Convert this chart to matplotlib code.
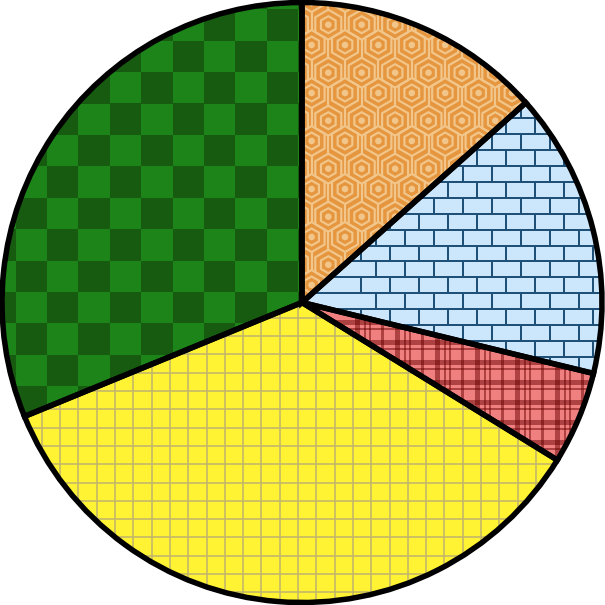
import numpy as np
import matplotlib
matplotlib.use("Agg")
import matplotlib.pyplot as plt
from matplotlib.collections import LineCollection, PolyCollection, PatchCollection
from matplotlib.patches import Circle, Rectangle

# ---- data ----
categories = ["Orange hexagons", "Blue bricks", "Red plaid", "Yellow grid", "Green checks"]
values = [13.4, 15.4, 5.0, 35.0, 31.2]
base_colors = ["#e5963e", "#cce6fb", "#f08080", "#fff333", "#1c8418"]

W = 605
R_PX = 300.0
CX, CY = 303.0, 302.5
PT = 72.0 / 100.0  # points per pixel


def P(x, y):
    return ((x - CX) / R_PX, (CY - y) / R_PX)


fig = plt.figure(figsize=(6.05, 6.05), dpi=100)
ax = fig.add_axes([0, 0, 1, 1])

wedges, _ = ax.pie(values, colors=base_colors, startangle=90, counterclock=False,
                   radius=1.0, center=(0, 0), wedgeprops=dict(linewidth=0))


def clip_add(coll, wedge):
    coll.set_zorder(2)
    ax.add_collection(coll)
    coll.set_clip_path(wedge)


# ---- orange hexagon pattern ----
def hexagon(cx, cy, r):
    angs = np.deg2rad(np.arange(6) * 60 + 90)
    return [P(cx + r * np.cos(a), cy - r * np.sin(a)) for a in angs]


hex_light = "#f2c68a"
polys, segs, dots = [], [], []
for j in range(-2, 8):
    for i in range(-2, 10):
        for (x0, y0) in [(346.0, 45.0), (329.3, 72.7)]:
            cx = x0 + 33.4 * i
            cy = y0 + 48.0 * j
            polys.append(hexagon(cx, cy, 15.0))
            polys.append(hexagon(cx, cy, 8.5))
            segs.append([P(cx, cy + 15.0), P(cx, cy + 48.0 - 15.0)])
            dots.append(Circle(P(cx, cy), 3.3 / R_PX))
w = wedges[0]
clip_add(PolyCollection(polys, facecolors="none", edgecolors=hex_light, linewidths=2.2 * PT), w)
clip_add(LineCollection(segs, colors=hex_light, linewidths=2.2 * PT), w)
clip_add(PatchCollection(dots, facecolor=hex_light, edgecolor="none"), w)

# ---- blue bricks ----
brick_col = "#1f5078"
segs = []
for k in range(-4, 22):
    yt = 118.3 + 15.9 * k
    segs.append([P(280, yt), P(620, yt)])
    for i in range(-2, 14):
        x = 420.0 + 29.0 * i + (k % 2) * 14.5
        segs.append([P(x, yt), P(x, yt + 15.9)])
clip_add(LineCollection(segs, colors=brick_col, linewidths=2.0 * PT), wedges[1])

# ---- red plaid ----
plaid = []
v_stripes = [(0, 5), (9, 2), (14, 2), (26, 3)]
h_stripes = [(0, 5), (8, 2), (20, 5), (28, 2)]
for n in range(-2, 10):
    for off, wd in v_stripes:
        x = 436 + 40 * n + off
        x0, y0 = P(x, 600)
        plaid.append(Rectangle((x0, y0), wd / R_PX, 400 / R_PX))
    for off, wd in h_stripes:
        y = 300 + 40 * n + off
        x0, y0 = P(280, y + wd)
        plaid.append(Rectangle((x0, y0), 400 / R_PX, wd / R_PX))
clip_add(PatchCollection(plaid, facecolor=(0.40, 0.0, 0.0, 0.48), edgecolor="none"), wedges[2])

# ---- yellow grid ----
grid_col = "#c2b56a"
segs = []
for k in range(-20, 30):
    x = 116.0 + 18.3 * k
    segs.append([P(x, 280), P(x, 620)])
    y = 372.7 + 18.3 * k
    segs.append([P(-20, y), P(620, y)])
clip_add(LineCollection(segs, colors=grid_col, linewidths=1.6 * PT), wedges[3])

# ---- green checkerboard ----
checks = []
for i in range(-3, 10):
    for j in range(-2, 15):
        if (i + j) % 2 == 1:
            x = 48.0 + 31.4 * i
            y = 9.3 + 31.4 * j
            x0, y0 = P(x, y + 31.4)
            checks.append(Rectangle((x0, y0), 31.4 / R_PX, 31.4 / R_PX))
clip_add(PatchCollection(checks, facecolor="#175b11", edgecolor="none"), wedges[4])

# ---- outlines ----
outlines, _ = ax.pie(values, colors=["none"] * len(values), startangle=90, counterclock=False,
                     radius=1.0, center=(0, 0),
                     wedgeprops=dict(linewidth=5.5 * PT, edgecolor="black", joinstyle="miter"))
for o in outlines:
    o.set_zorder(5)

lim = W / 2 / R_PX
ax.set_xlim(-lim + (CX - W / 2) / R_PX, lim + (CX - W / 2) / R_PX)
ax.set_ylim(-lim - (CY - W / 2) / R_PX, lim - (CY - W / 2) / R_PX)
ax.set_aspect("equal")
ax.axis("off")

fig.savefig("out.png", dpi=100)
